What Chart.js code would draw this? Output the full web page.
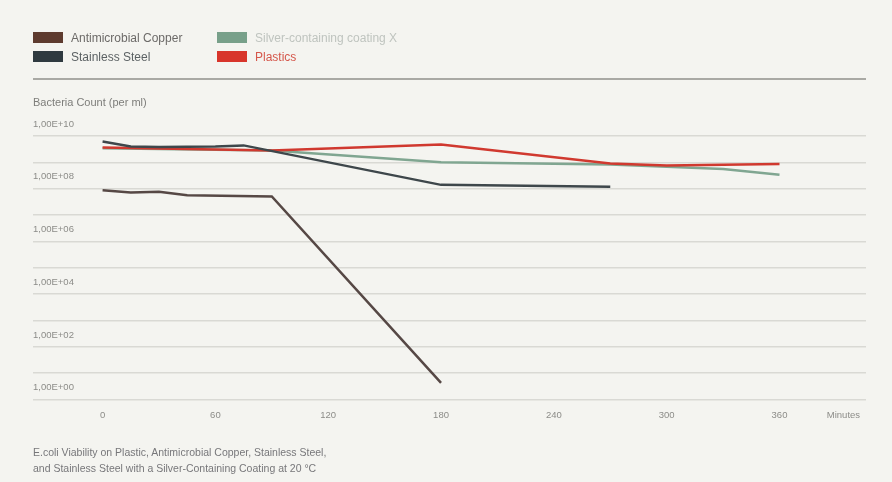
<!DOCTYPE html>
<html>
<head>
<meta charset="utf-8">
<script src="https://cdn.jsdelivr.net/npm/chart.js@4"></script>
<style>
  html, body { margin: 0; padding: 0; background: #f4f4f0; }
  #wrap { position: relative; width: 892px; height: 482px; font-family: 'Liberation Sans Narrow', 'Liberation Sans', sans-serif; }
  #chart { position: absolute; left: 0; top: 0; }
  .legend-item { position: absolute; height: 12px; line-height: 12px; font-size: 12px; white-space: nowrap; }
  .legend-item .box { position: absolute; left: 0; top: 0; width: 30px; height: 11px; }
  .legend-item .txt { position: absolute; left: 38px; top: 0; }
  #rule { position: absolute; left: 33px; top: 78px; width: 833px; height: 2px; background: #a9a9a4; }
  #ytitle { position: absolute; left: 33px; top: 96px; font-size: 11px; color: #7d7d7a; }
  #caption { position: absolute; left: 33px; top: 444px; font-size: 10.5px; line-height: 16px; color: #77777a; }
</style>
</head>
<body>
<div id="wrap">
  <canvas id="chart" width="892" height="482"></canvas>
  <div id="legend"></div>
  <div id="rule"></div>
  <div id="ytitle">Bacteria Count (per ml)</div>
  <div id="caption">E.coli Viability on Plastic, Antimicrobial Copper, Stainless Steel,<br>and Stainless Steel with a Silver-Containing Coating at 20 °C</div>
</div>
<script>
// Bacteria counts per ml over time (minutes)
const steelMinutes  = [0, 15, 30, 60, 75, 180, 270];
const steelCounts   = [6.2e9, 4.0e9, 3.8e9, 4.0e9, 4.4e9, 1.4e8, 1.2e8];

const copperMinutes = [0, 15, 30, 45, 90, 180];
const copperCounts  = [8.7e7, 7.2e7, 7.6e7, 5.6e7, 5.1e7, 4.3];

const plasticMinutes = [0, 90, 180, 270, 300, 360];
const plasticCounts  = [3.7e9, 2.8e9, 4.8e9, 9.1e8, 7.6e8, 8.7e8];

const silverMinutes = [0, 90, 180, 270, 330, 360];
const silverCounts  = [3.4e9, 2.8e9, 1.0e9, 8.3e8, 5.6e8, 3.4e8];

const minuteTicks = [0, 60, 120, 180, 240, 300, 360];
const unitLabel = 'Minutes';
const unitTickPos = 394;
const decadeExponents = [0, 1, 2, 3, 4, 5, 6, 7, 8, 9, 10];

function pts(xs, ys) { return xs.map((x, i) => ({ x: x, y: ys[i] })); }

// Datasets listed top-most first (Chart.js paints index 0 last)
const datasets = [
  { label: 'Stainless Steel', data: pts(steelMinutes, steelCounts), borderColor: '#3e474b', legendColor: '#2f3a40', textColor: '#5c6264', legendRow: 1, legendCol: 0 },
  { label: 'Antimicrobial Copper', data: pts(copperMinutes, copperCounts), borderColor: '#564845', legendColor: '#5e3b2f', textColor: '#6c6a68', legendRow: 0, legendCol: 0 },
  { label: 'Plastics', data: pts(plasticMinutes, plasticCounts), borderColor: '#d0392f', legendColor: '#d8352b', textColor: '#d5574b', legendRow: 1, legendCol: 1 },
  { label: 'Silver-containing coating X', data: pts(silverMinutes, silverCounts), borderColor: '#80a691', legendColor: '#78a08a', textColor: '#bfc4bf', legendRow: 0, legendCol: 1 }
].map(d => Object.assign(d, { borderWidth: 2.5, pointRadius: 0, tension: 0, fill: false }));

const chart = new Chart(document.getElementById('chart'), {
  type: 'line',
  data: { datasets: datasets },
  options: {
    responsive: false,
    animation: false,
    devicePixelRatio: 1,
    layout: { padding: { left: 33, right: 26, top: 136, bottom: 51 } },
    plugins: { legend: { display: false }, tooltip: { enabled: false } },
    scales: {
      x: {
        type: 'linear', min: -37, max: 406,
        grid: { display: false, drawTicks: false },
        border: { display: false },
        afterBuildTicks: s => { s.ticks = minuteTicks.concat([unitTickPos]).map(v => ({ value: v })); },
        ticks: {
          padding: 10,
          color: '#8c8c88',
          font: { family: "'Liberation Sans Narrow', 'Liberation Sans', sans-serif", size: 9.5 },
          callback: v => v === unitTickPos ? unitLabel : String(v)
        }
      },
      y: {
        type: 'logarithmic', min: 1, max: 1e10,
        grid: { color: '#d9d9d4', lineWidth: 1.5, drawTicks: false },
        border: { display: false },
        afterBuildTicks: s => { s.ticks = decadeExponents.map(e => ({ value: Math.pow(10, e) })); },
        ticks: {
          mirror: true,
          padding: 0,
          labelOffset: -12,
          color: '#8c8c88',
          font: { family: "'Liberation Sans Narrow', 'Liberation Sans', sans-serif", size: 9.5 },
          callback: v => {
            const e = Math.round(Math.log10(v));
            return e % 2 === 0 ? '1,00E+' + String(e).padStart(2, '0') : '';
          }
        }
      }
    }
  }
});

// Two-column legend built from the chart's datasets
const legend = document.getElementById('legend');
const colX = [33, 217], rowY = [32, 51];
chart.data.datasets.forEach(d => {
  const item = document.createElement('div');
  item.className = 'legend-item';
  item.style.left = colX[d.legendCol] + 'px';
  item.style.top = rowY[d.legendRow] + 'px';
  const box = document.createElement('span');
  box.className = 'box';
  box.style.background = d.legendColor;
  const txt = document.createElement('span');
  txt.className = 'txt';
  txt.style.color = d.textColor;
  txt.textContent = d.label;
  item.appendChild(box);
  item.appendChild(txt);
  legend.appendChild(item);
});
</script>
</body>
</html>
